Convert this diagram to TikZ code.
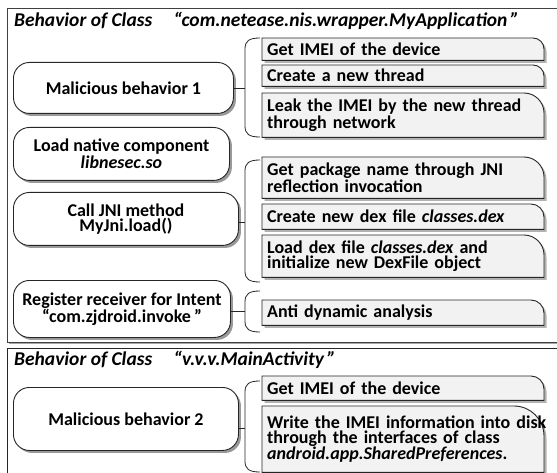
\documentclass[tikz,border=0pt]{standalone}
\usepackage{fontspec}
\setmainfont{Carlito}
\usetikzlibrary{shadows}
\pgfdeclarelayer{back}
\pgfdeclarelayer{bg}
\pgfsetlayers{back,bg,main}
\definecolor{rfill}{HTML}{F2F2F2}
\tikzset{
  lbox/.style={draw=black!85, line width=0.9pt, fill=white, rounded corners=16pt,
    align=center, inner sep=0pt, anchor=north west,
    font=\fontsize{18}{15}\selectfont\bfseries,
    drop shadow={shadow xshift=2.5pt, shadow yshift=-2.5pt, fill=black, opacity=0.4}},
  rtext/.style={anchor=north west, text width=290pt, inner xsep=5pt,
    inner ysep=0pt, align=left, font=\fontsize{18}{15}\selectfont\bfseries},
  rbox/.style={draw=black!85, line width=0.9pt, fill=rfill},
  rshadow/.style={fill=black, opacity=0.3},
  brc/.style={draw=black!85, line width=0.8pt},
  conn/.style={draw=black!85, line width=0.9pt},
  ttl/.style={anchor=west, inner sep=0pt, font=\fontsize{19.5}{19.5}\selectfont\bfseries\itshape},
  frm/.style={draw=black!75, line width=1pt}
}
% frame of a right box: node, radius; width fixed at 282pt from the west side
\newcommand\rframe[2]{%
  \begin{pgfonlayer}{bg}
  \fill[rshadow] ([shift={(2.5pt,-2.5pt)}]#1.south west) -- ([shift={(2.5pt,-2.5pt)}]#1.north west)
    -- ([shift={(284.5pt-#2pt,-2.5pt)}]#1.north west) arc[start angle=90,end angle=0,radius=#2pt]
    -- ([shift={(284.5pt,-2.5pt)}]#1.south west) -- cycle;
  \filldraw[rbox] (#1.south west) -- (#1.north west) -- ([xshift=282pt-#2pt]#1.north west)
    arc[start angle=90,end angle=0,radius=#2pt] -- ([xshift=282pt]#1.south west) -- cycle;
  \end{pgfonlayer}}
\newcommand\brk[3]{%
  \coordinate (#1t) at (260,-#2);
  \coordinate (#1b) at (260,-#3);
  \draw[brc] (#1t) .. controls (249,-#2) and (245,-#2-3) .. (245,-#2-11)
    -- (245,-#3+11) .. controls (245,-#3+3) and (249,-#3) .. (#1b);}
\begin{document}
\begin{tikzpicture}[x=1pt,y=1pt]
\useasboundingbox (0,0) rectangle (557,-473);
% frames
\begin{pgfonlayer}{back}
\draw[frm, drop shadow={shadow xshift=1.5pt, shadow yshift=-2pt, fill=black, opacity=0.35}, fill=white] (7,-9) rectangle (580,-342);
\draw[frm, draw=black!85, fill=white] (7,-348) rectangle (580,-490);
\end{pgfonlayer}
\node[ttl] (t1) at (14,-21) {Behavior of Class\hspace{1.1em}“com.netease.nis.wrapper.MyApplication\,”};
\node[ttl] (t2) at (14,-360) {Behavior of Class\hspace{1.1em}“v.v.v.MainActivity\,”};
% left boxes
\node[lbox, minimum width=220pt, minimum height=51pt] (m1) at (13,-62) {Malicious behavior 1};
\node[lbox, minimum width=216pt, minimum height=53pt] (m2) at (13,-127) {Load native component\\\textit{libnesec.so}};
\node[lbox, minimum width=225pt, minimum height=53pt] (m3) at (13,-192) {Call JNI method\\MyJni.load()};
\node[lbox, minimum width=217pt, minimum height=57pt] (m4) at (13,-280) {Register receiver for Intent\\“com.zjdroid.invoke\,”};
\node[lbox, minimum width=225pt, minimum height=63pt] (m5) at (13,-387) {Malicious behavior 2};
% right boxes
\node[rtext, minimum height=22pt] (a1) at (262,-38) {Get IMEI of the device};
\node[rtext, minimum height=21pt] (a2) at (262,-65) {Create a new thread};
\node[rtext, minimum height=44pt] (a3) at (262,-93) {Leak the IMEI by the new thread\\through network};
\node[rtext, minimum height=41pt] (b1) at (262,-157) {Get package name through JNI\\reflection invocation};
\node[rtext, minimum height=25pt] (b2) at (262,-204) {Create new dex file \textit{classes.dex}};
\node[rtext, minimum height=42pt] (b3) at (262,-235) {Load dex file \textit{classes.dex} and\\initialize new DexFile object};
\node[rtext, minimum height=25pt] (c1) at (262,-300) {Anti dynamic analysis};
\node[rtext, minimum height=24pt] (d1) at (262,-376) {Get IMEI of the device};
\node[rtext, minimum height=66pt] (d2) at (262,-406) {Write the IMEI information into disk\\through the interfaces of class\\\textit{android.app.SharedPreferences}.};
\rframe{a1}{11}\rframe{a2}{11}\rframe{a3}{20}
\rframe{b1}{20}\rframe{b2}{13}\rframe{b3}{20}
\rframe{c1}{13}
\rframe{d1}{13}\rframe{d2}{30}
% braces and connectors
\brk{ga}{38}{137}
\brk{gb}{160}{282}
\brk{gc}{291}{332}
\brk{gd}{381}{472}
\coordinate (ja) at (245,-88);
\coordinate (jb) at (245,-222);
\coordinate (jc) at (245,-311);
\coordinate (jd) at (245,-428);
\draw[conn] (m1.east |- ja) -- (ja);
\draw[conn] (m3.east |- jb) -- (jb);
\draw[conn] (m4.east |- jc) -- (jc);
\draw[conn] (m5.east |- jd) -- (jd);
\end{tikzpicture}
\end{document}
